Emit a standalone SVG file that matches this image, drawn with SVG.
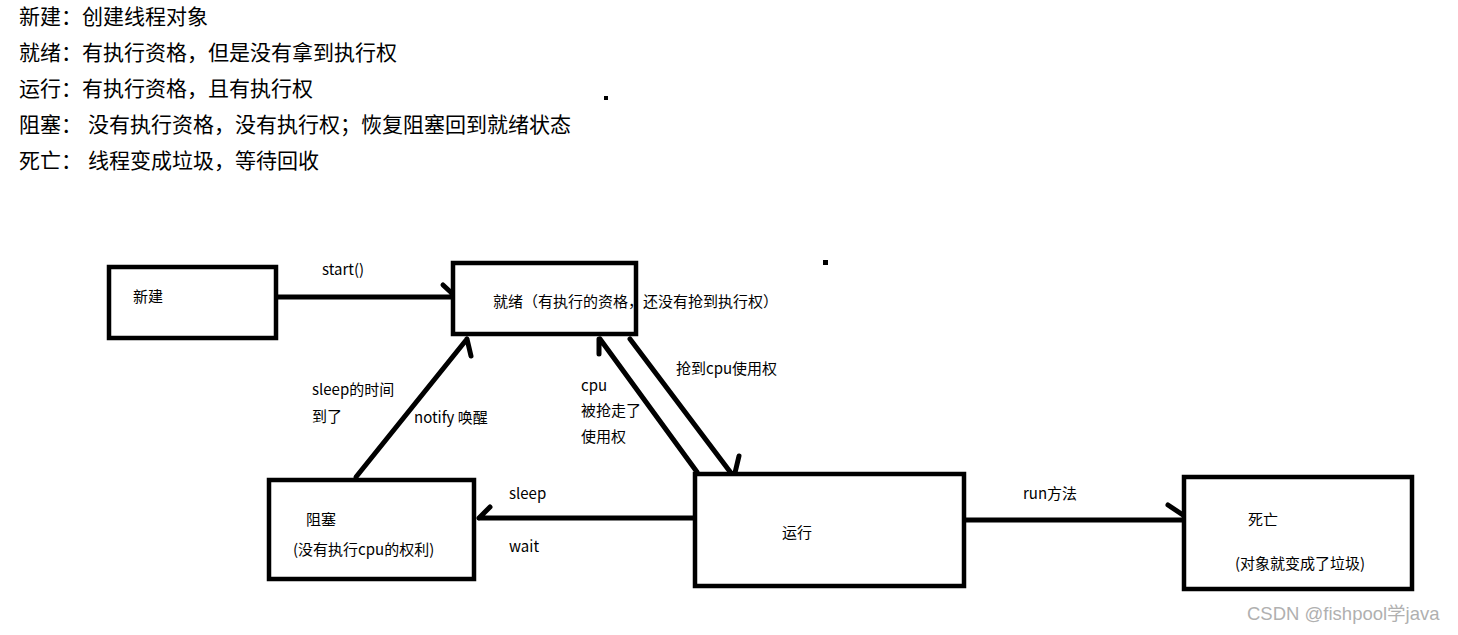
<svg xmlns="http://www.w3.org/2000/svg" width="1458" height="635" viewBox="0 0 1458 635">
<style>
.t{font-family:"Noto Sans CJK SC","Liberation Sans",sans-serif;fill:#000}
.h{font-size:21px}
.s{font-size:15px}
.box{fill:#fff;stroke:#000;stroke-width:4.5}
.c{fill:none;stroke:#000;stroke-width:5;stroke-linecap:round}
</style>
<rect width="1458" height="635" fill="#fff"/>
<g id="notes">
<text class="t h" x="19" y="24">新建：创建线程对象</text>
<text class="t h" x="19" y="60">就绪：有执行资格，但是没有拿到执行权</text>
<text class="t h" x="19" y="96">运行：有执行资格，且有执行权</text>
<text class="t h" y="132"><tspan x="19">阻塞：</tspan><tspan x="88">没有执行资格，没有执行权；恢复阻塞回到就绪状态</tspan></text>
<text class="t h" y="168"><tspan x="19">死亡：</tspan><tspan x="88">线程变成垃圾，等待回收</tspan></text>
<rect x="604" y="96" width="4" height="4" fill="#000"/>
<rect x="823" y="260" width="5" height="5" fill="#000"/>
</g>
<g id="connectors">
<path class="c" d="M277 297 L456 297 M443 285 L456 297"/>
<path class="c" d="M356 477 L467 339 M467 339 L471 356"/>
<path class="c" d="M697 472 L600 339 M599 339 L599 354"/>
<path class="c" d="M630 339 L734 477 M739 456 L734 477"/>
<path class="c" d="M697 518 L479 518 M490 507 L479 518"/>
<path class="c" d="M965 520 L1192 520 M1168 505 L1192 521"/>
<text class="t s" x="322" y="275">start()</text>
<text class="t s" x="312" y="395">sleep的时间</text>
<text class="t s" x="312" y="422">到了</text>
<text class="t s" x="414" y="423">notify 唤醒</text>
<text class="t s" x="581" y="391">cpu</text>
<text class="t s" x="581" y="416">被抢走了</text>
<text class="t s" x="581" y="442">使用权</text>
<text class="t s" x="676" y="374">抢到cpu使用权</text>
<text class="t s" x="509" y="499">sleep</text>
<text class="t s" x="509" y="552">wait</text>
<text class="t s" x="1023" y="499">run方法</text>
</g>
<g id="node-new">
<rect class="box" x="109" y="267" width="167" height="71"/>
<text class="t s" x="133" y="302">新建</text>
</g>
<g id="node-ready">
<rect class="box" x="453" y="263" width="183" height="71"/>
<text class="t s" x="493" y="307">就绪（有执行的资格，还没有抢到执行权）</text>
</g>
<g id="node-blocked">
<rect class="box" x="269" y="480" width="205" height="99"/>
<text class="t s" x="306" y="525">阻塞</text>
<text class="t s" x="293" y="555">(没有执行cpu的权利)</text>
</g>
<g id="node-running">
<rect class="box" x="695" y="474" width="269" height="112"/>
<text class="t s" x="782" y="538">运行</text>
</g>
<g id="node-dead">
<rect class="box" x="1184" y="477" width="228" height="112"/>
<text class="t s" x="1248" y="525">死亡</text>
<text class="t s" x="1235" y="569">(对象就变成了垃圾)</text>
</g>
<text x="1247" y="620" style="font-family:'Liberation Sans','Noto Sans CJK SC',sans-serif;font-size:18.5px;fill:#b0b0b0">CSDN @fishpool学java</text>
</svg>
